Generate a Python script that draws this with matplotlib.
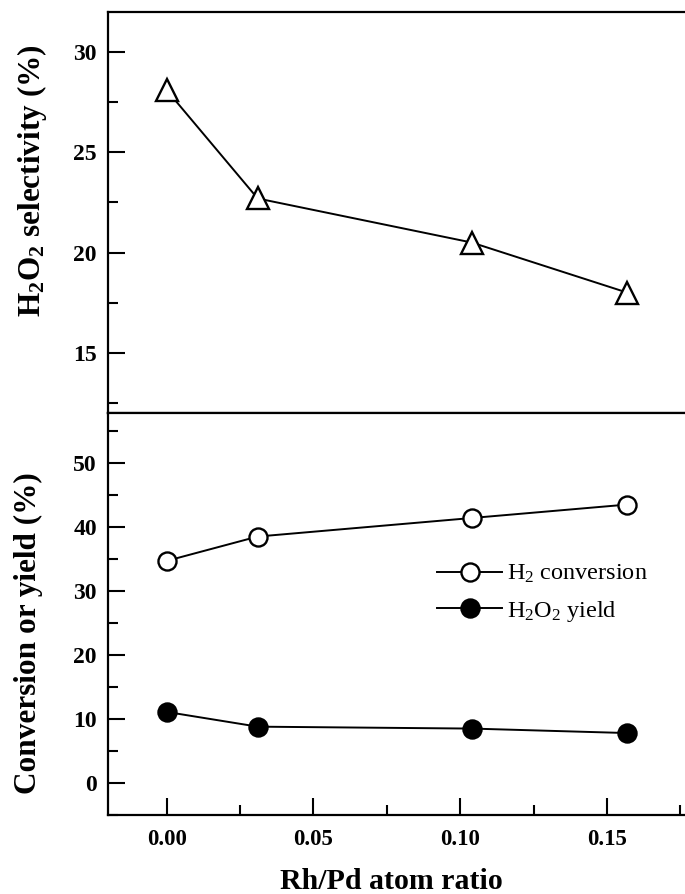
import matplotlib
matplotlib.use("Agg")
import matplotlib.pyplot as plt
from matplotlib.ticker import MultipleLocator, FormatStrFormatter

# ---- data ----
rh_pd_ratio = [0.0, 0.031, 0.104, 0.157]
h2o2_selectivity = [28.1, 22.7, 20.5, 18.0]
h2_conversion = [34.7, 38.5, 41.4, 43.5]
h2o2_yield = [11.1, 8.8, 8.5, 7.8]

top_ylabel = "H$_2$O$_2$ selectivity (%)"
bottom_ylabel = "Conversion or yield (%)"
xlabel = "Rh/Pd atom ratio"
legend_labels = ["H$_2$ conversion", "H$_2$O$_2$ yield"]

plt.rcParams['font.family'] = ['Liberation Serif', 'DejaVu Serif']
plt.rcParams['mathtext.fontset'] = 'custom'
plt.rcParams['mathtext.rm'] = 'Liberation Serif'
plt.rcParams['mathtext.bf'] = 'Liberation Serif:bold'
plt.rcParams['mathtext.default'] = 'regular'

W, H = 685, 894
fig = plt.figure(figsize=(W / 100, H / 100), dpi=100)

left_px, right_px = 108, 695
def ax_rect(top_px, bottom_px):
    return [left_px / W, 1 - bottom_px / H, (right_px - left_px) / W, (bottom_px - top_px) / H]

ax1 = fig.add_axes(ax_rect(12, 413))
ax2 = fig.add_axes(ax_rect(413, 815))

lw_spine = 1.6
label_fs = 22.5

for ax in (ax1, ax2):
    for s in ax.spines.values():
        s.set_linewidth(lw_spine)
    ax.tick_params(which='major', direction='in', length=12, width=1.5, pad=8)
    ax.tick_params(which='minor', direction='in', length=7, width=1.5)
    ax.tick_params(axis='y', labelsize=17)
    ax.tick_params(axis='x', labelsize=16.5)
    ax.set_xlim(-0.02, 0.18)

# top panel
ax1.plot(rh_pd_ratio, h2o2_selectivity, color='black', lw=1.4,
         marker='^', markersize=16.5, markerfacecolor='white',
         markeredgecolor='black', markeredgewidth=1.7)
ax1.set_ylim(12, 32)
ax1.yaxis.set_major_locator(MultipleLocator(5))
ax1.yaxis.set_minor_locator(MultipleLocator(2.5))
ax1.tick_params(axis='x', which='both', bottom=False, labelbottom=False)
ax1.set_ylabel(top_ylabel, fontsize=label_fs, fontweight='bold', va='center')
ax1.yaxis.set_label_coords(-0.13, 0.58)

# bottom panel
ax2.plot(rh_pd_ratio, h2_conversion, color='black', lw=1.4,
         marker='o', markersize=13, markerfacecolor='white',
         markeredgecolor='black', markeredgewidth=1.7, label=legend_labels[0])
ax2.plot(rh_pd_ratio, h2o2_yield, color='black', lw=1.4,
         marker='o', markersize=13, markerfacecolor='black',
         markeredgecolor='black', markeredgewidth=1.7, label=legend_labels[1])
ax2.set_ylim(-5, 57.8)
ax2.yaxis.set_major_locator(MultipleLocator(10))
ax2.yaxis.set_minor_locator(MultipleLocator(5))
ax2.xaxis.set_major_locator(MultipleLocator(0.05))
ax2.xaxis.set_minor_locator(MultipleLocator(0.025))
ax2.xaxis.set_major_formatter(FormatStrFormatter('%.2f'))
ax2.tick_params(axis='x', which='major', pad=10)
for lab in ax2.get_yticklabels() + ax2.get_xticklabels() + ax1.get_yticklabels():
    lab.set_fontweight('bold')
ax2.set_ylabel(bottom_ylabel, fontsize=label_fs, fontweight='bold', va='center')
ax2.yaxis.set_label_coords(-0.135, 0.453)
ax2.set_xlabel(xlabel, fontsize=21.5, fontweight='bold', va='center')
ax2.xaxis.set_label_coords(0.482, -0.166)

leg = ax2.legend(loc='center left', bbox_to_anchor=(0.56, 0.551), frameon=False,
                 fontsize=17.5, handlelength=2.7, handletextpad=0.2,
                 borderpad=0, borderaxespad=0, labelspacing=0.55)

fig.savefig('out.png', dpi=100)
